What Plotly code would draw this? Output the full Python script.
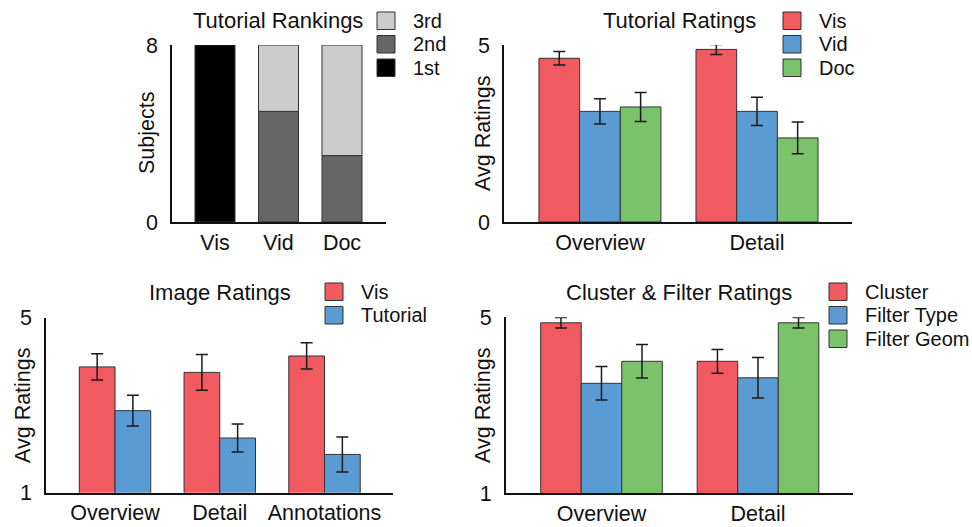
import plotly.graph_objects as go

# ---- data -------------------------------------------------------------
rank_cats = ["Vis", "Vid", "Doc"]
rank_1st = [8, 0, 0]
rank_2nd = [0, 5, 3]
rank_3rd = [0, 3, 5]

tut_cats = ["Overview", "Detail"]
tut_vis = [4.625, 4.875]
tut_vis_err = [0.19, 0.14]
tut_vid = [3.125, 3.125]
tut_vid_err = [0.36, 0.40]
tut_doc = [3.25, 2.375]
tut_doc_err = [0.41, 0.45]

img_cats = ["Overview", "Detail", "Annotations"]
img_vis = [3.875, 3.75, 4.125]
img_vis_err = [0.30, 0.41, 0.30]
img_tut = [2.875, 2.25, 1.875]
img_tut_err = [0.35, 0.32, 0.40]

cf_cats = ["Overview", "Detail"]
cf_cluster = [4.875, 4.0]
cf_cluster_err = [0.12, 0.27]
cf_type = [3.5, 3.625]
cf_type_err = [0.38, 0.46]
cf_geom = [4.0, 4.875]
cf_geom_err = [0.38, 0.12]

# ---- style ------------------------------------------------------------
W, H = 972, 527
FONT = "Liberation Sans, Arial, Helvetica, sans-serif"
RED, BLUE, GREEN = "#F15A60", "#5A9BD4", "#7AC36A"
G1, G2, G3 = "#000000", "#666666", "#CCCCCC"
OUTLINE = "#333333"
tick_font = dict(family=FONT, size=21.5, color="#111")
title_font = dict(family=FONT, size=22, color="#111")
legend_font = dict(family=FONT, size=20, color="#111")


def px(x):
    return x / W


def py(y):
    return 1 - y / H


fig = go.Figure()


def nz(vals):
    return [v if v else None for v in vals]


# Panel 1: stacked rankings
fig.add_trace(go.Bar(x=rank_cats, y=nz(rank_1st), base=0, width=0.63, name="1st",
                     marker=dict(color=G1, line=dict(color=OUTLINE, width=1)),
                     xaxis="x", yaxis="y"))
fig.add_trace(go.Bar(x=rank_cats, y=nz(rank_2nd), base=0, width=0.63, name="2nd",
                     marker=dict(color=G2, line=dict(color=OUTLINE, width=1)),
                     xaxis="x", yaxis="y"))
fig.add_trace(go.Bar(x=rank_cats, y=nz(rank_3rd), base=rank_2nd, width=0.63, name="3rd",
                     marker=dict(color=G3, line=dict(color=OUTLINE, width=1)),
                     xaxis="x", yaxis="y"))


def grouped(cats, series, width, xa, ya):
    n = len(series)
    for i, (name, vals, errs, color) in enumerate(series):
        off = -n * width / 2 + i * width
        fig.add_trace(go.Bar(
            x=cats, y=vals, width=width, offset=off, name=name,
            marker=dict(color=color, line=dict(color=OUTLINE, width=1)),
            error_y=dict(type="data", array=errs, color="#1a1a1a",
                         thickness=1.5, width=6),
            xaxis=xa, yaxis=ya))


grouped(tut_cats, [("Vis", tut_vis, tut_vis_err, RED),
                   ("Vid", tut_vid, tut_vid_err, BLUE),
                   ("Doc", tut_doc, tut_doc_err, GREEN)], 0.259, "x2", "y2")
grouped(img_cats, [("Vis", img_vis, img_vis_err, RED),
                   ("Tutorial", img_tut, img_tut_err, BLUE)], 0.341, "x3", "y3")
grouped(cf_cats, [("Cluster", cf_cluster, cf_cluster_err, RED),
                  ("Filter Type", cf_type, cf_type_err, BLUE),
                  ("Filter Geom", cf_geom, cf_geom_err, GREEN)], 0.259, "x4", "y4")

# ---- axes -------------------------------------------------------------
panels = [
    # x-domain px, y-domain px (top, bottom), x-range, y-range, y ticks
    dict(k="", xd=(172, 386), yd=(45, 222), xr=(-0.677, 2.693), yr=(0, 8), yt=[0, 8]),
    dict(k="2", xd=(504, 852), yd=(45, 222), xr=(-0.611, 1.605), yr=(0, 5), yt=[0, 5]),
    dict(k="3", xd=(46, 393), yd=(317.7, 492.7), xr=(-0.659, 2.654), yr=(1, 5), yt=[1, 5]),
    dict(k="4", xd=(505.7, 853), yd=(317.3, 493.3), xr=(-0.612, 1.607), yr=(1, 5), yt=[1, 5]),
]

layout_axes = {}
for p in panels:
    k = p["k"]
    layout_axes["xaxis" + k] = dict(
        domain=[px(p["xd"][0]), px(p["xd"][1])], range=list(p["xr"]),
        anchor="y" + k, type="category", showgrid=False, zeroline=False,
        showline=True, linecolor="#111", linewidth=1.5, ticks="",
        tickfont=tick_font, ticklabelstandoff=0, automargin=False, fixedrange=True)
    layout_axes["yaxis" + k] = dict(
        domain=[py(p["yd"][1]), py(p["yd"][0])], range=list(p["yr"]),
        anchor="x" + k, showgrid=False, zeroline=False,
        showline=True, linecolor="#111", linewidth=1.5,
        ticks="inside", ticklen=12, tickwidth=1.5, tickcolor="#111",
        tickvals=p["yt"], tickfont=tick_font, ticklabelstandoff=8,
        automargin=False, fixedrange=True)

# ---- titles and legends -----------------------------------------------
annotations = []
shapes = []

for text, cx, cy in [("Tutorial Rankings", 278, 20), ("Tutorial Ratings", 679, 20),
                     ("Image Ratings", 220, 292), ("Cluster & Filter Ratings", 679, 292)]:
    annotations.append(dict(text=text, x=px(cx), y=py(cy), xref="paper", yref="paper",
                            xanchor="center", yanchor="middle", showarrow=False,
                            font=title_font))

for text, cx, cy in [("Subjects", 147, 133), ("Avg Ratings", 483, 133),
                     ("Avg Ratings", 23, 405), ("Avg Ratings", 483, 405)]:
    annotations.append(dict(text=text, x=px(cx), y=py(cy), xref="paper", yref="paper",
                            xanchor="center", yanchor="middle", showarrow=False,
                            textangle=-90, font=tick_font))

legends = [
    (377, 12, [("3rd", G3), ("2nd", G2), ("1st", G1)]),
    (783, 12, [("Vis", RED), ("Vid", BLUE), ("Doc", GREEN)]),
    (325, 283, [("Vis", RED), ("Tutorial", BLUE)]),
    (829, 283, [("Cluster", RED), ("Filter Type", BLUE), ("Filter Geom", GREEN)]),
]
BOX_W, BOX_H, PITCH = 18, 17.5, 23.5
for lx, ly, items in legends:
    for i, (name, color) in enumerate(items):
        top = ly + i * PITCH
        shapes.append(dict(type="rect", xref="paper", yref="paper",
                           x0=px(lx), x1=px(lx + BOX_W), y0=py(top + BOX_H), y1=py(top),
                           fillcolor=color, line=dict(color=OUTLINE, width=1)))
        annotations.append(dict(text=name, x=px(lx + 34), y=py(top + BOX_H / 2),
                                xref="paper", yref="paper", xanchor="left",
                                yanchor="middle", showarrow=False, font=legend_font))

fig.update_layout(
    width=W, height=H, autosize=False,
    margin=dict(l=0, r=0, t=0, b=0),
    paper_bgcolor="white", plot_bgcolor="white",
    barmode="overlay", showlegend=False,
    font=dict(family=FONT, color="#111"),
    annotations=annotations, shapes=shapes,
    **layout_axes,
)

fig.write_html("out.html", config=dict(displayModeBar=False))
